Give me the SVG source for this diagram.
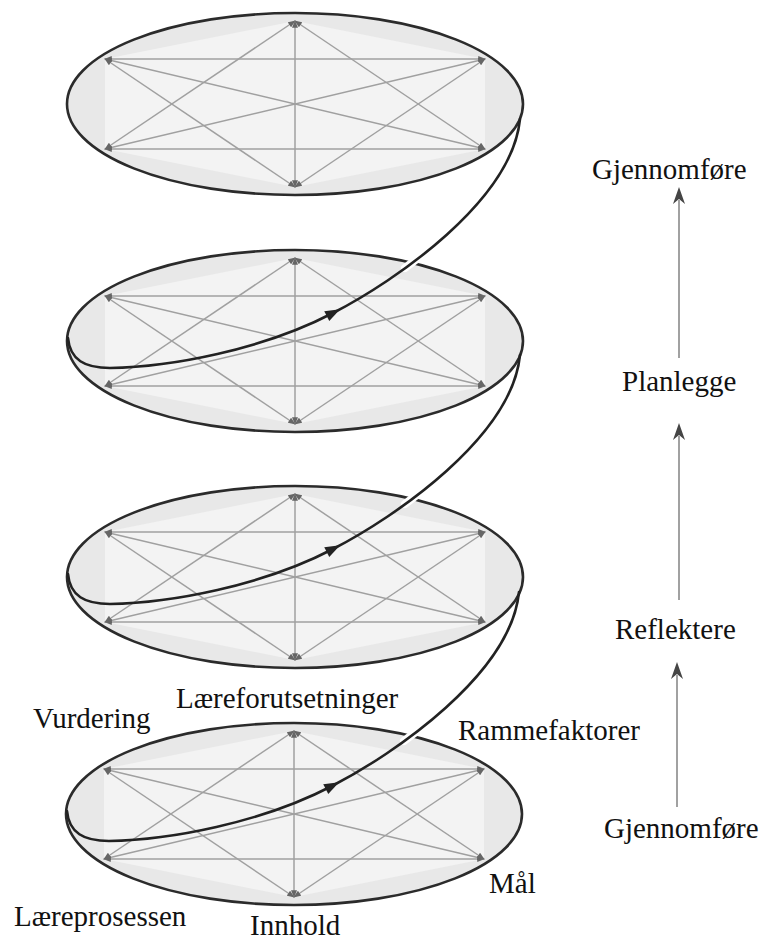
<svg xmlns="http://www.w3.org/2000/svg" xmlns:xlink="http://www.w3.org/1999/xlink" width="761" height="944" viewBox="0 0 761 944">
<style>
.disc{fill:#e8e8e8;stroke:none}
.inner{fill:#f3f3f3;stroke:none}
.spoke{stroke:#a0a0a0;stroke-width:1.5;fill:none;marker-start:url(#sa);marker-end:url(#sa)}
.rim{fill:none;stroke:#2b2b2b;stroke-width:2.6}
.spiral{fill:none;stroke:#222;stroke-width:2.6;stroke-linecap:round}
.halo{stroke:#fff;stroke-width:8;stroke-linecap:round}
.head{fill:#222}
.flow{stroke:#8a8a8a;stroke-width:1.6}
.fhead{fill:#454545}
text{font-family:"Liberation Serif","Times New Roman",serif;font-size:29px;fill:#111}
</style>
<defs>
<marker id="sa" viewBox="0 0 10 8" refX="9" refY="4" markerWidth="8" markerHeight="6" markerUnits="userSpaceOnUse" orient="auto-start-reverse">
<path d="M0,0 L10,4 L0,8 Z" fill="#666"/>
</marker>
<g id="plane">
<ellipse class="disc" rx="228" ry="91"/>
<polygon class="inner" points="-190,-45 0,-83 190,-45 190,45 0,83 -190,45"/>
<line class="spoke" x1="0" y1="-83" x2="0" y2="83"/>
<line class="spoke" x1="-190" y1="-45" x2="190" y2="-45"/>
<line class="spoke" x1="-190" y1="45" x2="190" y2="45"/>
<line class="spoke" x1="-190" y1="-45" x2="190" y2="45"/>
<line class="spoke" x1="-190" y1="45" x2="190" y2="-45"/>
<line class="spoke" x1="0" y1="-83" x2="-190" y2="45"/>
<line class="spoke" x1="0" y1="-83" x2="190" y2="45"/>
<line class="spoke" x1="0" y1="83" x2="-190" y2="-45"/>
<line class="spoke" x1="0" y1="83" x2="190" y2="-45"/>
<ellipse class="rim" rx="228" ry="91"/>
</g>
<g id="turn">
<line class="halo" x1="405" y1="-73" x2="430" y2="-92"/>
<path class="spiral" d="M68,-3 C70,19 85,27 110,27 C170,26 262,9 333,-28 C395,-60 512,-140 520,-222"/>
<polygon class="head" points="8,0 -7,-5.5 -7,5.5" transform="translate(333,-28) rotate(-27)"/>
</g>
<path id="fh" d="M0,0 L6,17 L0,12 L-6,17 Z"/>
</defs>

<g id="plane-4"><use xlink:href="#plane" href="#plane" x="295" y="104"/></g>
<g id="plane-3"><use xlink:href="#plane" href="#plane" x="295" y="341"/></g>
<g id="plane-2"><use xlink:href="#plane" href="#plane" x="295" y="577"/></g>
<g id="plane-1"><use xlink:href="#plane" href="#plane" x="294" y="814"/></g>

<g id="connectors">
<use xlink:href="#turn" href="#turn" x="0" y="341"/>
<use xlink:href="#turn" href="#turn" x="0" y="577"/>
<use xlink:href="#turn" href="#turn" x="-1" y="814"/>
<line class="flow" x1="679" y1="200" x2="679" y2="358"/>
<use xlink:href="#fh" href="#fh" class="fhead" x="679" y="187"/>
<line class="flow" x1="679" y1="436" x2="679" y2="600"/>
<use xlink:href="#fh" href="#fh" class="fhead" x="679" y="423"/>
<line class="flow" x1="677" y1="675" x2="677" y2="807"/>
<use xlink:href="#fh" href="#fh" class="fhead" x="677" y="662"/>
</g>

<g id="label-gjennomfore-top"><text x="592" y="179">Gjennomføre</text></g>
<g id="label-planlegge"><text x="622" y="391">Planlegge</text></g>
<g id="label-reflektere"><text x="615" y="639">Reflektere</text></g>
<g id="label-gjennomfore-bottom"><text x="604" y="838">Gjennomføre</text></g>
<g id="label-vurdering"><text x="33" y="728">Vurdering</text></g>
<g id="label-laereforutsetninger"><text x="176" y="708">Læreforutsetninger</text></g>
<g id="label-rammefaktorer"><text x="458" y="740">Rammefaktorer</text></g>
<g id="label-maal"><text x="489" y="893">Mål</text></g>
<g id="label-laereprosessen"><text x="14" y="926">Læreprosessen</text></g>
<g id="label-innhold"><text x="250" y="935">Innhold</text></g>
</svg>
